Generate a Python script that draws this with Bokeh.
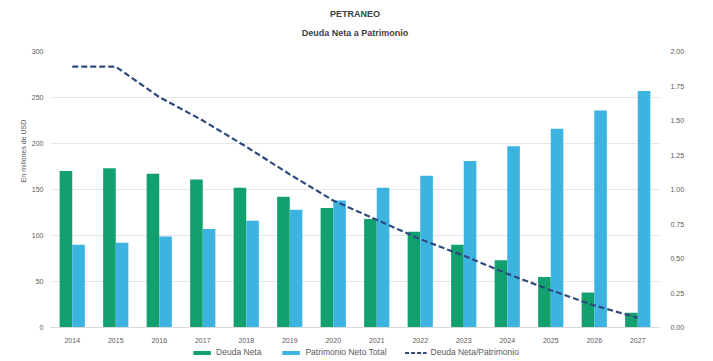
from bokeh.plotting import figure
from bokeh.layouts import column
from bokeh.models import (Range1d, LinearAxis, FactorRange, Legend, LegendItem,
                          FixedTicker, Title, ColumnDataSource, NumeralTickFormatter)
from bokeh.transform import dodge
from bokeh.embed import file_html
from bokeh.resources import INLINE

years = [str(y) for y in range(2014, 2028)]
deuda_neta = [170, 173, 167, 161, 152, 142, 130, 118, 104, 90, 73, 55, 38, 16]
patrimonio = [90, 92, 99, 107, 116, 128, 138, 152, 165, 181, 197, 216, 236, 257]
ratio = [1.89, 1.89, 1.67, 1.50, 1.31, 1.11, 0.92, 0.78, 0.64, 0.52, 0.39, 0.27, 0.16, 0.07]
left_ticks = [0, 50, 100, 150, 200, 250, 300]
right_ticks = [0, 0.25, 0.5, 0.75, 1.0, 1.25, 1.5, 1.75, 2.0]
series_names = ["Deuda Neta", "Patrimonio Neto Total", "Deuda Neta/Patrimonio"]

GREEN = "#12a06f"
BLUE = "#3db4e0"
NAVY = "#2e4a7d"
FONT = "Liberation Sans"
TXT = "#595959"

src = ColumnDataSource(dict(x=years, d=deuda_neta, p=patrimonio, r=ratio))

p = figure(x_range=FactorRange(*years), y_range=Range1d(0, 300),
           width=697, height=345, output_backend="svg", toolbar_location=None,
           min_border_left=50, min_border_right=38, min_border_top=51, min_border_bottom=16)
p.extra_y_ranges = {"ratio": Range1d(0, 2)}

p.vbar(x=dodge("x", -0.145, range=p.x_range), top="d", width=0.29, source=src,
       color=GREEN, line_color=None)
p.vbar(x=dodge("x", 0.145, range=p.x_range), top="p", width=0.29, source=src,
       color=BLUE, line_color=None)
p.line(x="x", y="r", source=src, y_range_name="ratio", color=NAVY,
       line_width=2.2, line_dash="6 3")

ax = p.yaxis[0]
ax.ticker = FixedTicker(ticks=left_ticks)
ax.formatter = NumeralTickFormatter(format="0")
ra = LinearAxis(y_range_name="ratio", ticker=FixedTicker(ticks=right_ticks),
                formatter=NumeralTickFormatter(format="0.00"))
p.add_layout(ra, "right")

for a in [ax, ra, p.xaxis[0]]:
    a.major_label_text_font = FONT
    a.major_label_text_font_size = "7px"
    a.major_label_text_color = TXT
    a.major_tick_line_color = None
    a.minor_tick_line_color = None
ax.axis_line_color = None
ra.axis_line_color = None
ax.major_tick_out = 0
ax.major_label_standoff = 7
p.xaxis.axis_line_color = "#d9d9d9"
p.xaxis.major_tick_out = 4
p.xaxis.major_label_standoff = 6

# left axis title, shifted upward with leading em spaces
ax.axis_label = "\u2003" * 11 + "En millones de USD"
ax.axis_label_text_font = FONT
ax.axis_label_text_font_size = "7px"
ax.axis_label_text_font_style = "normal"
ax.axis_label_text_color = TXT
ax.axis_label_standoff = 2

p.xgrid.grid_line_color = None
p.ygrid.grid_line_color = "#e6e6e6"
p.ygrid.ticker = FixedTicker(ticks=left_ticks)
p.outline_line_color = None

p.add_layout(Title(text="Deuda Neta a Patrimonio", align="center", text_font=FONT,
                   text_font_size="9px", text_font_style="bold", text_color="#404040",
                   standoff=27), "above")
p.add_layout(Title(text="PETRANEO", align="center", text_font=FONT,
                   text_font_size="9px", text_font_style="bold", text_color="#404040",
                   standoff=-13), "above")

# legend strip
lg = figure(width=697, height=14, output_backend="svg", toolbar_location=None,
            x_range=Range1d(0, 1), y_range=Range1d(0, 1),
            min_border_left=0, min_border_right=0, min_border_top=0, min_border_bottom=0)
lg.axis.visible = False
lg.grid.visible = False
lg.outline_line_color = None
r1 = lg.vbar(x=[0.5], top=[0], bottom=[0], width=0, color=GREEN, line_color=None)
r2 = lg.vbar(x=[0.5], top=[0], bottom=[0], width=0, color=BLUE, line_color=None)
r3 = lg.line(x=[0.5, 0.5], y=[0, 0], color=NAVY, line_width=2.2, line_dash="4 2",
             line_alpha=1)
legend = Legend(items=[LegendItem(label=series_names[0], renderers=[r1]),
                       LegendItem(label=series_names[1], renderers=[r2]),
                       LegendItem(label=series_names[2], renderers=[r3])],
                orientation="horizontal", location="center",
                label_text_font=FONT, label_text_font_size="8.5px", label_text_color=TXT,
                glyph_width=22, glyph_height=5, spacing=18, padding=0, margin=0,
                border_line_color=None, background_fill_alpha=0, label_standoff=4,
                label_height=8)
lg.add_layout(legend)

layout = column(p, lg, spacing=0)
open("out.html", "w").write(file_html(layout, INLINE))
